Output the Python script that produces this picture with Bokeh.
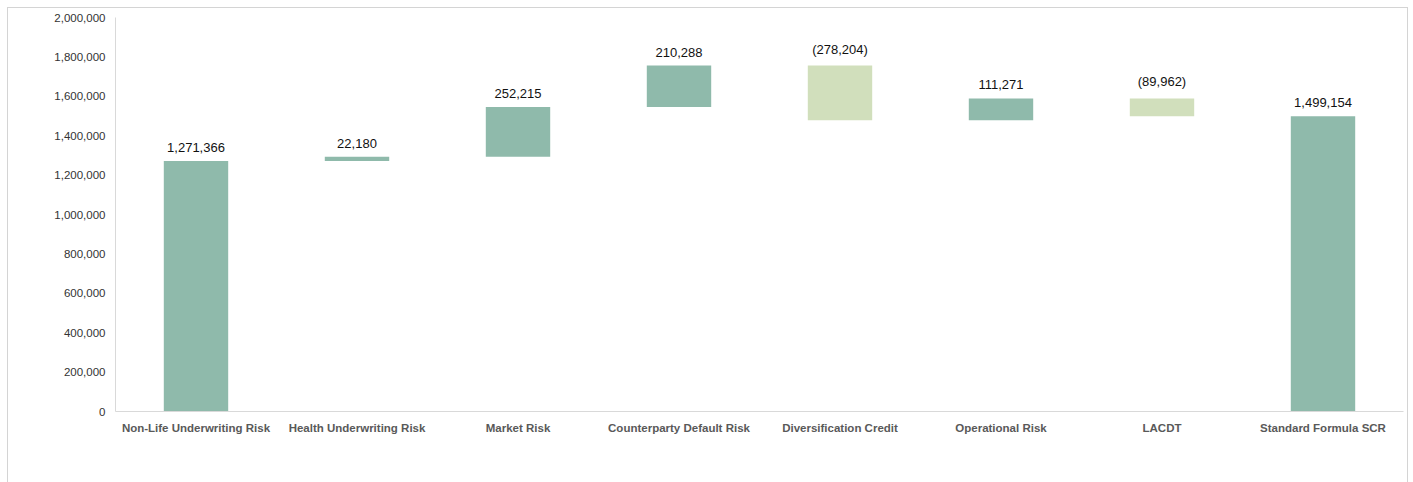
from bokeh.plotting import figure
from bokeh.models import ColumnDataSource, FactorRange, Range1d, NumeralTickFormatter, SingleIntervalTicker, LabelSet
from bokeh.embed import file_html
from bokeh.resources import INLINE
from bokeh.core.properties import value

categories = ["Non-Life Underwriting Risk", "Health Underwriting Risk", "Market Risk",
              "Counterparty Default Risk", "Diversification Credit", "Operational Risk",
              "LACDT", "Standard Formula SCR"]
amounts = [1271366, 22180, 252215, 210288, -278204, 111271, -89962, 1499154]
is_total = [False, False, False, False, False, False, False, True]

bottoms, tops, colors, labels, label_y = [], [], [], [], []
running = 0
for amt, tot in zip(amounts, is_total):
    if tot:
        b, t = 0, amt
        running = amt
    else:
        b, t = running, running + amt
        running = t
    lo, hi = min(b, t), max(b, t)
    bottoms.append(lo)
    tops.append(hi)
    colors.append("#8FBAAB" if amt >= 0 else "#D1DFBC")
    labels.append(f"{amt:,}" if amt >= 0 else f"({-amt:,})")
    label_y.append(hi)

src = ColumnDataSource(dict(cat=categories, bottom=bottoms, top=tops, color=colors,
                            label=labels, ly=label_y))

p = figure(width=1401, height=480, x_range=FactorRange(factors=categories, range_padding=0),
           y_range=Range1d(0, 2000000), output_backend="svg", toolbar_location=None,
           min_border_left=107, min_border_right=6, min_border_top=9, min_border_bottom=77)
p.margin = (7, 3, 0, 7)
p.styles = {"border": "1px solid #d4d4d4"}
p.outline_line_color = None
p.xgrid.grid_line_color = None
p.ygrid.grid_line_color = None

p.vbar(x="cat", bottom="bottom", top="top", width=0.4, fill_color="color", line_color=None, source=src)

lbl = LabelSet(x="cat", y="ly", text="label", source=src, text_align="center",
               text_baseline="bottom", y_offset=9, text_font_size="13px",
               text_font=value("Liberation Sans"), text_color="#111111")
p.add_layout(lbl)

p.yaxis.ticker = SingleIntervalTicker(interval=200000)
p.yaxis.formatter = NumeralTickFormatter(format="0,0")
p.yaxis.major_tick_line_color = None
p.yaxis.minor_tick_line_color = None
p.yaxis.axis_line_color = "#d9d9d9"
p.yaxis.major_label_text_font = "Liberation Sans"
p.yaxis.major_label_text_font_size = "11.5px"
p.yaxis.major_label_text_color = "#333333"
p.yaxis.major_label_standoff = 4

p.xaxis.major_tick_line_color = None
p.xaxis.minor_tick_line_color = None
p.xaxis.axis_line_color = "#d9d9d9"
p.xaxis.major_label_text_font = "Liberation Sans"
p.xaxis.major_label_text_font_size = "11.5px"
p.xaxis.major_label_text_font_style = "bold"
p.xaxis.major_label_text_color = "#595959"
p.xaxis.major_label_standoff = 4

open("out.html", "w").write(file_html(p, INLINE))
